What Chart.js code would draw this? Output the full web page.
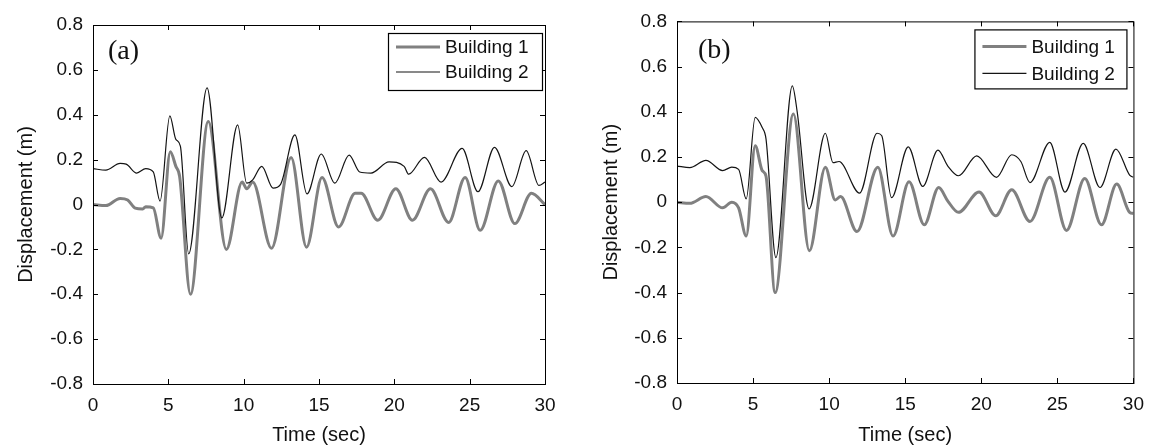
<!DOCTYPE html>
<html>
<head>
<meta charset="utf-8">
<script src="https://cdn.jsdelivr.net/npm/chart.js@4.4.0/dist/chart.umd.min.js"></script>
<style>
  body { margin: 0; background: #fff; }
  #contenedor { position: relative; width: 1154px; height: 445px; }
  .panel { position: absolute; top: 0; height: 445px; }
</style>
</head>
<body>
<div id="contenedor">
  <div class="panel" style="left:0;width:580px"><canvas id="graficoA"></canvas></div>
  <div class="panel" style="left:580px;width:574px"><canvas id="graficoB"></canvas></div>
</div>
<script>
// Datos (tiempo en s, desplazamiento en m)
const tiempoA1 = [0, 0.85, 1.8, 2.3, 2.8, 3.3, 3.5, 4.0, 4.52, 5.13, 5.5, 5.75, 6.47, 7.65, 8.85, 9.9, 10.2, 10.6, 11.85, 13.15, 14.17, 15.2, 16.3, 17.4, 17.8, 18.9, 20.1, 21.2, 22.4, 23.6, 24.7, 25.7, 26.9, 28.0, 29.1, 30];
const despA1 = [0, -0.005, 0.027, 0.02, -0.016, -0.02, -0.01, -0.015, -0.15, 0.235, 0.17, 0.125, -0.40, 0.37, -0.20, 0.10, 0.07, 0.10, -0.195, 0.21, -0.19, 0.12, -0.10, 0.05, 0.05, -0.07, 0.07, -0.07, 0.07, -0.08, 0.12, -0.115, 0.105, -0.085, 0.05, 0];

const tiempoA2 = [0, 0.85, 1.8, 2.2, 2.9, 3.5, 4.0, 4.45, 5.1, 5.5, 5.8, 6.35, 7.57, 8.55, 9.6, 10.2, 10.6, 11.2, 11.95, 12.45, 13.4, 14.2, 15.15, 16.05, 17.0, 17.7, 18.45, 19.65, 20.65, 20.95, 22.0, 23.1, 24.5, 25.55, 26.65, 27.8, 28.75, 29.6, 30];
const despA2 = [0.16, 0.153, 0.183, 0.18, 0.14, 0.16, 0.145, 0.015, 0.395, 0.29, 0.26, -0.22, 0.52, -0.06, 0.355, 0.095, 0.11, 0.17, 0.073, 0.09, 0.31, 0.047, 0.225, 0.095, 0.22, 0.145, 0.14, 0.19, 0.17, 0.135, 0.21, 0.10, 0.25, 0.057, 0.255, 0.08, 0.24, 0.085, 0.10];

const tiempoB1 = [0, 0.84, 1.9, 3.0, 3.6, 4.05, 4.55, 5.14, 5.6, 5.85, 6.45, 7.65, 8.7, 9.75, 10.4, 10.75, 11.83, 13.2, 14.2, 15.25, 16.25, 17.2, 17.8, 18.5, 19.85, 20.95, 22.0, 23.2, 24.5, 25.6, 26.8, 27.9, 28.9, 29.75, 30];
const despB1 = [0, -0.005, 0.025, -0.025, 0, -0.025, -0.15, 0.25, 0.14, 0.115, -0.40, 0.39, -0.215, 0.155, 0.01, 0.025, -0.13, 0.155, -0.15, 0.09, -0.10, 0.065, 0.005, -0.045, 0.045, -0.06, 0.055, -0.085, 0.11, -0.125, 0.105, -0.10, 0.08, -0.045, -0.05];

const tiempoB2 = [0, 0.84, 1.9, 3.0, 3.6, 4.05, 4.55, 5.14, 5.6, 5.85, 6.5, 7.58, 7.9, 8.68, 9.75, 10.25, 10.65, 12.0, 13.15, 13.45, 14.1, 15.2, 16.15, 17.15, 17.8, 18.5, 19.7, 21.0, 22.0, 22.6, 23.2, 24.5, 25.5, 26.7, 27.8, 28.85, 29.75, 30];
const despB2 = [0.16, 0.153, 0.185, 0.14, 0.155, 0.145, 0.015, 0.375, 0.33, 0.28, -0.245, 0.515, 0.40, -0.03, 0.305, 0.175, 0.18, 0.04, 0.305, 0.295, 0.02, 0.245, 0.07, 0.23, 0.16, 0.117, 0.205, 0.11, 0.21, 0.18, 0.087, 0.265, 0.045, 0.26, 0.065, 0.235, 0.12, 0.11];

const nombresSeries = ['Building 1', 'Building 2'];
const etiquetasPanel = ['(a)', '(b)'];
const tituloX = 'Time (sec)';
const tituloY = 'Displacement (m)';

const FUENTE = "'Liberation Sans', Arial, sans-serif";

function puntos(t, d) {
    return t.map((v, i) => ({ x: v, y: d[i] }));
}

// marco, ticks hacia adentro, etiqueta del panel y leyenda con caja
const marcoPlugin = {
    id: 'marco',
    afterDatasetsDraw(chart, args, opts) {
        const { ctx, chartArea: a, scales: { x, y } } = chart;
        ctx.save();
        ctx.strokeStyle = '#000';
        ctx.lineWidth = 1;
        ctx.strokeRect(a.left + 0.5, a.top + 0.5, a.right - a.left, a.bottom - a.top);
        ctx.beginPath();
        x.ticks.forEach(t => {
            const px = Math.round(x.getPixelForValue(t.value)) + 0.5;
            ctx.moveTo(px, a.bottom); ctx.lineTo(px, a.bottom - 5);
            ctx.moveTo(px, a.top); ctx.lineTo(px, a.top + 5);
        });
        y.ticks.forEach(t => {
            const py = Math.round(y.getPixelForValue(t.value)) + 0.5;
            ctx.moveTo(a.left, py); ctx.lineTo(a.left + 5, py);
            ctx.moveTo(a.right, py); ctx.lineTo(a.right - 5, py);
        });
        ctx.stroke();

        // etiqueta (a) / (b)
        ctx.fillStyle = '#111';
        ctx.font = "28px 'Liberation Serif', 'Times New Roman', serif";
        ctx.textBaseline = 'middle';
        ctx.textAlign = 'left';
        ctx.fillText(opts.etiqueta, a.left + opts.etqX, a.top + opts.etqY);

        // leyenda
        const L = opts.leyenda;
        const bx = a.right - L.dx - L.w;
        const by = a.top + L.dy;
        ctx.fillStyle = '#fff';
        ctx.fillRect(bx, by, L.w, L.h);
        ctx.strokeStyle = '#000';
        ctx.lineWidth = 1.2;
        ctx.strokeRect(bx + 0.5, by + 0.5, L.w, L.h);
        ctx.font = '19px ' + FUENTE;
        chart.data.datasets.forEach((ds, i) => {
            const fy = by + L.filas[i];
            ctx.strokeStyle = ds.borderColor;
            ctx.lineWidth = ds.borderWidth;
            ctx.beginPath();
            ctx.moveTo(bx + 8, fy);
            ctx.lineTo(bx + 52, fy);
            ctx.stroke();
            ctx.fillStyle = '#111';
            ctx.fillText(ds.label, bx + 57, fy + 1);
        });
        ctx.restore();
    }
};

function crearPanel(id, serie1, serie2, geo) {
    const ctx = document.getElementById(id);
    return new Chart(ctx, {
        type: 'line',
        data: {
            datasets: [
                {
                    label: nombresSeries[0],
                    data: serie1,
                    borderColor: '#808080',
                    borderWidth: 3,
                    pointRadius: 0,
                    order: 1,
                    cubicInterpolationMode: 'monotone'
                },
                {
                    label: nombresSeries[1],
                    data: serie2,
                    borderColor: '#141414',
                    borderWidth: 1.2,
                    pointRadius: 0,
                    order: 0,
                    cubicInterpolationMode: 'monotone'
                }
            ]
        },
        options: {
            responsive: true,
            maintainAspectRatio: false,
            animation: false,
            layout: { padding: { left: 0, right: geo.derecha, top: geo.arriba, bottom: 0 } },
            plugins: {
                legend: { display: false },
                tooltip: { enabled: false },
                marco: {
                    etiqueta: geo.etiqueta,
                    etqX: geo.etqX,
                    etqY: geo.etqY,
                    leyenda: geo.leyenda
                }
            },
            scales: {
                x: {
                    type: 'linear',
                    min: 0, max: 30,
                    afterFit: s => { s.height = geo.altoX; },
                    grid: { display: false, drawTicks: false },
                    border: { display: false },
                    ticks: { stepSize: 5, padding: 10, color: '#111', font: { family: FUENTE, size: 19 } },
                    title: {
                        display: true, text: tituloX, color: '#111',
                        font: { family: FUENTE, size: 20, lineHeight: 1 },
                        padding: { top: 0, bottom: 0 }
                    }
                },
                y: {
                    min: -0.8, max: 0.8,
                    afterFit: s => { s.width = geo.anchoY; },
                    grid: { display: false, drawTicks: false },
                    border: { display: false },
                    ticks: {
                        stepSize: 0.2, padding: 10, color: '#111',
                        font: { family: FUENTE, size: 19 },
                        callback: v => Math.abs(v) < 1e-9 ? '0' : v.toFixed(1)
                    },
                    title: {
                        display: true, text: tituloY, color: '#111',
                        font: { family: FUENTE, size: 20 },
                        padding: { top: geo.padTituloY, bottom: 0 }
                    }
                }
            }
        },
        plugins: [marcoPlugin]
    });
}

crearPanel('graficoA', puntos(tiempoA1, despA1), puntos(tiempoA2, despA2), {
    anchoY: 93, altoX: 61, derecha: 35, arriba: 25, padTituloY: 14,
    etiqueta: etiquetasPanel[0], etqX: 15, etqY: 27,
    leyenda: { dx: 3, dy: 8, w: 154, h: 57, filas: [14, 39] }
});
crearPanel('graficoB', puntos(tiempoB1, despB1), puntos(tiempoB2, despB2), {
    anchoY: 97, altoX: 62, derecha: 17, arriba: 20, padTituloY: 19,
    etiqueta: etiquetasPanel[1], etqX: 21, etqY: 29,
    leyenda: { dx: 7, dy: 8, w: 152, h: 59, filas: [17, 44] }
});
</script>
</body>
</html>
